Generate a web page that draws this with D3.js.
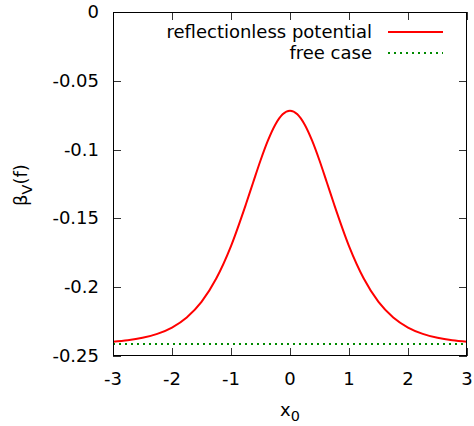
<!DOCTYPE html>
<html><head><meta charset="utf-8">
<script src="https://cdn.jsdelivr.net/npm/d3@7"></script>
<style>body{margin:0;background:#fff}svg{display:block}text{font-family:"DejaVu Sans",sans-serif;fill:#000}</style>
</head><body>
<script>
const xValues = [-3,-2.75,-2.5,-2.25,-2,-1.75,-1.5,-1.25,-1,-0.75,-0.625,-0.5,-0.375,-0.25,-0.125,0,0.125,0.25,0.375,0.5,0.625,0.75,1,1.25,1.5,1.75,2,2.25,2.5,2.75,3];
const reflectionless = [-0.2396,-0.2386,-0.2368,-0.2339,-0.2293,-0.2220,-0.2107,-0.1937,-0.1701,-0.1401,-0.1239,-0.1079,-0.0935,-0.0819,-0.0743,-0.0717,-0.0743,-0.0819,-0.0935,-0.1079,-0.1239,-0.1401,-0.1701,-0.1937,-0.2107,-0.2220,-0.2293,-0.2339,-0.2368,-0.2386,-0.2396];
const freeCase = -0.2413;
const xTicks = [-3,-2,-1,0,1,2,3];
const yTicks = [0,-0.05,-0.1,-0.15,-0.2,-0.25];
const seriesNames = ["reflectionless potential","free case"];

const W=474,H=426, L=113,R=467,T=12,B=356, FS=18;
const svg=d3.select("body").append("svg").attr("width",W).attr("height",H);
const x=d3.scaleLinear().domain([-3,3]).range([L,R]);
const y=d3.scaleLinear().domain([-0.25,0]).range([B,T]);

// ticks (inward, mirrored)
const tk=8;
const g=svg.append("g").attr("stroke","#333").attr("stroke-width",1);
xTicks.forEach(v=>{const px=Math.round(x(v))+0.5;
  g.append("line").attr("x1",px).attr("x2",px).attr("y1",B).attr("y2",B-tk);
  g.append("line").attr("x1",px).attr("x2",px).attr("y1",T).attr("y2",T+tk);});
yTicks.forEach(v=>{const py=Math.round(y(v))+0.5;
  g.append("line").attr("x1",L).attr("x2",L+tk).attr("y1",py).attr("y2",py);
  g.append("line").attr("x1",R).attr("x2",R-tk).attr("y1",py).attr("y2",py);});

// tick labels
xTicks.forEach(v=>svg.append("text").attr("x",x(v)).attr("y",385).attr("text-anchor","middle").attr("font-size",FS).text(String(v)));
yTicks.forEach(v=>svg.append("text").attr("x",99).attr("y",y(v)+6).attr("text-anchor","end").attr("font-size",FS).text(String(v)));

// lines
const line=d3.line().x((d,i)=>x(xValues[i])).y(d=>y(d)).curve(d3.curveMonotoneX);
svg.append("path").datum(xValues.map(()=>freeCase)).attr("d",line).attr("fill","none").attr("stroke","#008a00").attr("stroke-width",2).attr("stroke-dasharray","2,4");
svg.append("path").datum(reflectionless).attr("d",line).attr("fill","none").attr("stroke","#ff0000").attr("stroke-width",2);

// border
svg.append("rect").attr("x",L+0.5).attr("y",T+0.5).attr("width",R-L-1).attr("height",B-T-1).attr("fill","none").attr("stroke","#000").attr("stroke-width",1);

// legend
svg.append("text").attr("x",372).attr("y",38).attr("text-anchor","end").attr("font-size",FS).text(seriesNames[0]);
svg.append("line").attr("x1",388).attr("x2",443).attr("y1",32).attr("y2",32).attr("stroke","#ff0000").attr("stroke-width",2);
svg.append("text").attr("x",372).attr("y",59).attr("text-anchor","end").attr("font-size",FS).text(seriesNames[1]);
svg.append("line").attr("x1",388).attr("x2",443).attr("y1",53).attr("y2",53).attr("stroke","#008a00").attr("stroke-width",2).attr("stroke-dasharray","2,4");

// axis labels
const xl=svg.append("text").attr("x",290).attr("y",416).attr("text-anchor","middle").attr("font-size",FS);
xl.append("tspan").text("x");
xl.append("tspan").attr("font-size",FS*0.8).attr("dy",5).text("0");
const yl=svg.append("text").attr("transform","translate(27,185) rotate(-90)").attr("text-anchor","middle").attr("font-size",FS);
yl.append("tspan").text("β");
yl.append("tspan").attr("font-size",FS*0.8).attr("dy",5).text("V");
yl.append("tspan").attr("dy",-5).text("(f)");
</script>
</body></html>
